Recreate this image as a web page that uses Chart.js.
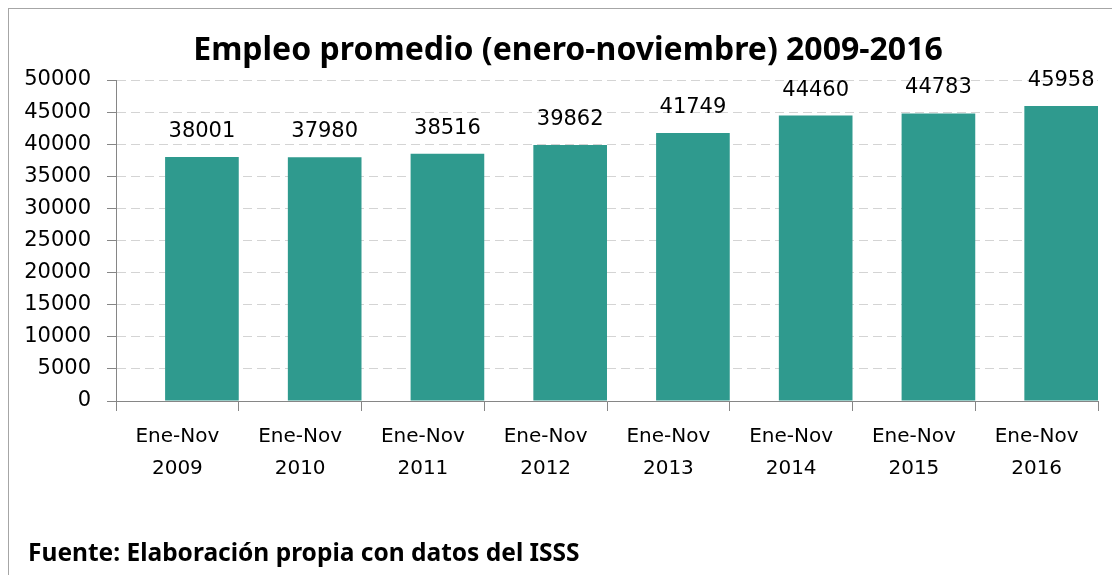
<!DOCTYPE html>
<html>
<head>
<meta charset="utf-8">
<script src="https://cdn.jsdelivr.net/npm/chart.js@4/dist/chart.umd.min.js"></script>
<style>
  html, body { margin: 0; padding: 0; background: #fff; }
  body { width: 1112px; height: 575px; position: relative; overflow: hidden; }
  #frame { position: absolute; left: 8px; top: 8px; width: 1200px; height: 620px; border: 1px solid #a6a6a6; }
  #title { position: absolute; left: 0; width: 1136px; top: 26px; text-align: center;
           font: bold 32px "Noto Sans", sans-serif; color: #000; }
  #note { position: absolute; left: 28px; top: 535px; font: bold 24.5px "Noto Sans", sans-serif; color: #000; }
  #wrap { position: absolute; left: 0; top: 0; width: 1112px; height: 575px; }
</style>
</head>
<body>
<div id="frame"></div>
<div id="wrap"><canvas id="chart"></canvas></div>
<div id="title">Empleo promedio (enero-noviembre) 2009-2016</div>
<div id="note">Fuente: Elaboración propia con datos del ISSS</div>
<script>
const categories = [
  ['Ene-Nov', '2009'], ['Ene-Nov', '2010'], ['Ene-Nov', '2011'], ['Ene-Nov', '2012'],
  ['Ene-Nov', '2013'], ['Ene-Nov', '2014'], ['Ene-Nov', '2015'], ['Ene-Nov', '2016']
];
const empleo = [38001, 37980, 38516, 39862, 41749, 44460, 44783, 45958];
const vacio = [null, null, null, null, null, null, null, null]; // serie vacia, como en el original
const yTicks = [0, 5000, 10000, 15000, 20000, 25000, 30000, 35000, 40000, 45000, 50000];

// etiquetas de valor encima de cada barra
const valueLabels = {
  id: 'valueLabels',
  afterDatasetsDraw(chart) {
    const ctx = chart.ctx;
    const meta = chart.getDatasetMeta(1);
    ctx.save();
    ctx.font = '21px "DejaVu Sans"';
    ctx.fillStyle = '#000';
    ctx.textAlign = 'center';
    ctx.textBaseline = 'alphabetic';
    meta.data.forEach((bar, i) => {
      ctx.fillText(String(empleo[i]), bar.x, bar.y - 20);
    });
    ctx.restore();
  }
};

new Chart(document.getElementById('chart'), {
  type: 'bar',
  data: {
    labels: categories,
    datasets: [{
      data: vacio,
      backgroundColor: 'rgba(0,0,0,0)',
      categoryPercentage: 0.8,
      barPercentage: 1.5
    }, {
      data: empleo,
      backgroundColor: '#2F9A8E',
      borderWidth: 0,
      categoryPercentage: 0.8,
      barPercentage: 1.5
    }]
  },
  options: {
    responsive: true,
    maintainAspectRatio: false,
    animation: false,
    layout: { padding: { left: 20, right: 14, top: 80, bottom: 0 } },
    plugins: { legend: { display: false }, tooltip: { enabled: false } },
    scales: {
      y: {
        min: 0, max: 50000,
        afterBuildTicks: s => { s.ticks = yTicks.map(v => ({ value: v })); },
        afterFit: s => { s.width = 96; },
        ticks: { font: { family: 'DejaVu Sans', size: 21 }, color: '#000', padding: 16,
                 callback: v => String(v) },
        grid: { color: '#d4d4d4', tickColor: '#868686', tickLength: 9, tickBorderDash: [] },
        border: { display: true, color: '#868686', dash: [9, 5] }
      },
      x: {
        afterFit: s => { s.height = 174; },
        ticks: { font: { family: 'DejaVu Sans', size: 20, lineHeight: 1.6 }, color: '#000',
                 padding: 10, maxRotation: 0 },
        grid: { drawOnChartArea: false, tickColor: '#868686', tickLength: 10, offset: true },
        border: { color: '#868686' }
      }
    }
  },
  plugins: [valueLabels]
});
</script>
</body>
</html>
